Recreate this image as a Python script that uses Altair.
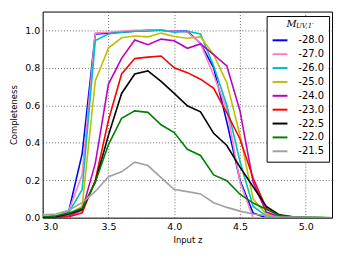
import altair as alt
import pandas as pd

z = [3.0, 3.1, 3.2, 3.3, 3.4, 3.5, 3.6, 3.7, 3.8, 3.9, 4.0, 4.1, 4.2,
     4.3, 4.4, 4.5, 4.6, 4.7, 4.8, 4.9, 5.0, 5.1, 5.2]

m280 = [0.0, 0.0, 0.04, 0.34, 0.98, 0.985, 0.99, 0.995, 1.0, 1.0, 0.995, 0.995, 0.93,
        0.80, 0.51, 0.20, 0.025, 0.0, 0.0, 0.0, 0.0, 0.0, 0.0]
m270 = [0.0, 0.0, 0.04, 0.23, 0.985, 0.99, 0.995, 1.0, 1.0, 1.0, 0.995, 0.99, 0.93,
        0.76, 0.58, 0.19, 0.0, 0.0, 0.0, 0.0, 0.0, 0.0, 0.0]
m260 = [0.0, 0.0, 0.03, 0.15, 0.945, 0.98, 0.99, 0.995, 0.995, 1.0, 0.99, 0.995, 0.98,
        0.81, 0.60, 0.30, 0.06, 0.01, 0.0, 0.0, 0.0, 0.0, 0.0]
m250 = [0.0, 0.0, 0.02, 0.06, 0.73, 0.905, 0.96, 0.97, 0.965, 0.985, 0.967, 0.958, 0.965,
        0.87, 0.72, 0.44, 0.10, 0.02, 0.005, 0.0, 0.0, 0.0, 0.0]
m240 = [0.0, 0.0, 0.01, 0.04, 0.29, 0.713, 0.85, 0.948, 0.923, 0.953, 0.944, 0.904, 0.927,
        0.87, 0.81, 0.57, 0.19, 0.03, 0.005, 0.0, 0.0, 0.0, 0.0]
m230 = [0.0, 0.0, 0.005, 0.026, 0.2, 0.52, 0.767, 0.849, 0.857, 0.863, 0.80, 0.774, 0.739,
        0.69, 0.56, 0.42, 0.21, 0.05, 0.01, 0.0, 0.0, 0.0, 0.0]
m225 = [0.0, 0.005, 0.02, 0.045, 0.19, 0.44, 0.663, 0.767, 0.783, 0.727, 0.663, 0.597, 0.565,
        0.45, 0.385, 0.27, 0.165, 0.06, 0.015, 0.005, 0.0, 0.0, 0.0]
m220 = [0.005, 0.01, 0.025, 0.05, 0.19, 0.39, 0.53, 0.57, 0.562, 0.496, 0.454, 0.365, 0.332,
        0.228, 0.197, 0.125, 0.078, 0.045, 0.012, 0.005, 0.003, 0.002, 0.0]
m215 = [0.015, 0.02, 0.04, 0.08, 0.14, 0.219, 0.245, 0.296, 0.278, 0.214, 0.15, 0.139, 0.127,
        0.08, 0.055, 0.035, 0.02, 0.01, 0.005, 0.003, 0.002, 0.001, 0.0]

labels = ["-28.0", "-27.0", "-26.0", "-25.0", "-24.0", "-23.0", "-22.5", "-22.0", "-21.5"]
series = [m280, m270, m260, m250, m240, m230, m225, m220, m215]
colors = ["#0000ff", "#ff80c0", "#00bfbf", "#bfbf00", "#bf00bf", "#ff0000",
          "#000000", "#008000", "#a0a0a0"]

rows = []
for i, (lab, vals) in enumerate(zip(labels, series)):
    for zz, v in zip(z, vals):
        rows.append({"z": zz, "c": v, "mag": lab, "k": i})
df = pd.DataFrame(rows)

font = "DejaVu Sans"

lines = alt.Chart(df).mark_line(strokeWidth=1.6, clip=True).encode(
    x=alt.X("z:Q",
            scale=alt.Scale(domain=[3.0, 5.2], nice=False, zero=False),
            axis=alt.Axis(values=[3.0, 3.5, 4.0, 4.5, 5.0], format=".1f",
                          title="Input z", titleX=146, titleY=22,
                          titleBaseline="middle", titleAlign="center")),
    y=alt.Y("c:Q",
            scale=alt.Scale(domain=[0, 1.1], nice=False),
            axis=alt.Axis(values=[0.0, 0.2, 0.4, 0.6, 0.8, 1.0], format=".1f",
                          title="Completeness", titleX=-29, titleY=104,
                          titleBaseline="middle", titleAlign="center")),
    color=alt.Color("mag:N",
                    scale=alt.Scale(domain=labels, range=colors),
                    legend=alt.Legend(orient="none", legendX=226, legendY=4.5,
                                      title=" ", titleFontSize=10, titlePadding=1,
                                      padding=5, strokeColor="black",
                                      cornerRadius=0, symbolType="stroke",
                                      symbolSize=225, symbolStrokeWidth=2,
                                      labelFont=font, labelFontSize=10,
                                      labelColor="black", labelOffset=10,
                                      rowPadding=-2)),
    order=alt.Order("k:Q"),
    detail="k:N",
)

ann = pd.DataFrame({"a": [0]})
bg = alt.Chart(ann).mark_rect(color="white", strokeWidth=0).encode(
    x=alt.value(226.5), x2=alt.value(288), y=alt.value(5), y2=alt.value(152))
tM = alt.Chart(ann).mark_text(font="DejaVu Serif", fontStyle="italic", fontSize=10,
                              align="left", baseline="alphabetic", color="black").encode(
    x=alt.value(246), y=alt.value(15.5), text=alt.value("M"))
tS = alt.Chart(ann).mark_text(font="DejaVu Serif", fontStyle="italic", fontSize=7,
                              align="left", baseline="alphabetic", color="black").encode(
    x=alt.value(255.5), y=alt.value(17), text=alt.value("UV,1′"))

chart = alt.layer(lines, bg, tM, tS).properties(
    width=292, height=208,
    autosize=alt.AutoSizeParams(type="none"),
    padding={"left": 35, "top": 2.5, "right": 5, "bottom": 30},
).configure_view(stroke="black", strokeWidth=1).configure_axis(
    grid=True, gridColor="#444", gridDash=[1, 2], gridWidth=0.8,
    domain=False, ticks=False, labelFont=font, labelFontSize=9.5,
    labelColor="black", labelPadding=4, titleFont=font, titleFontSize=8.5,
    titleFontWeight="normal", titleColor="black",
).configure_axisY(labelPadding=3)

chart.save("out.html", embed_options={"renderer": "svg", "actions": False})
